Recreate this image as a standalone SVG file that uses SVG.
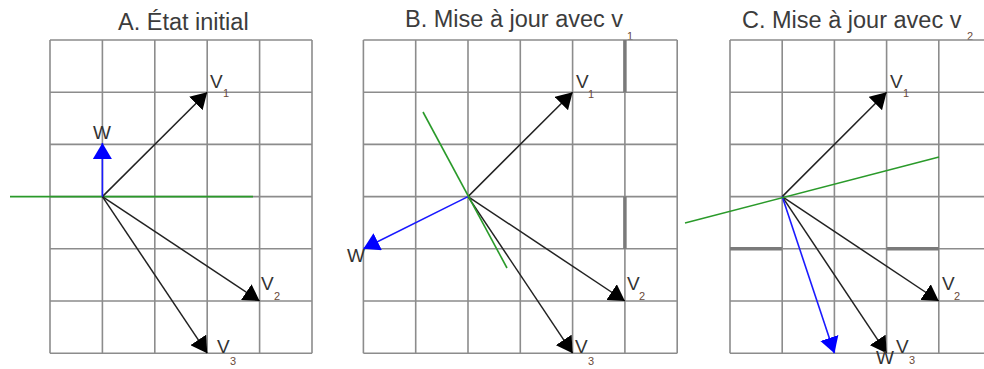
<svg xmlns="http://www.w3.org/2000/svg" width="984" height="369" viewBox="0 0 984 369">
<style>
.grid{stroke:#8c8c8c;stroke-width:1.6;fill:none}
.thick{stroke:#7a7a7a;stroke-width:3.5}
.title{font-family:"Liberation Sans",Arial,sans-serif;font-size:23.5px;fill:#3c3c3c}
.lbl{font-family:"Liberation Sans",Arial,sans-serif;font-size:19px;fill:#333}
.sub{font-family:"Liberation Sans",Arial,sans-serif;font-size:11px;fill:#6a4a3a}
.vec{stroke:#222;stroke-width:1.5;fill:none;marker-end:url(#ah)}
.w{stroke:#1a1aff;stroke-width:1.6;fill:none;marker-end:url(#ahb)}
.sep{stroke:#2a9a2a;stroke-width:1.6;fill:none}
</style>
<defs>
<marker id="ah" markerUnits="userSpaceOnUse" markerWidth="16" markerHeight="19" refX="16" refY="9.5" orient="auto"><path d="M0,0 L16,9.5 L0,19 z" fill="#000"/></marker>
<marker id="ahb" markerUnits="userSpaceOnUse" markerWidth="16" markerHeight="19" refX="16" refY="9.5" orient="auto"><path d="M0,0 L16,9.5 L0,19 z" fill="#0000ff"/></marker>
</defs>
<rect width="984" height="369" fill="#fff"/>

<!-- Panel A -->
<g id="panel-a">
<text class="title" x="118" y="30">A. État initial</text>
<g class="grid">
<path d="M50,40V353.2M102.4,40V353.2M154.8,40V353.2M207.2,40V353.2M259.6,40V353.2M312,40V353.2"/>
<path d="M50,40H312M50,92.2H312M50,144.4H312M50,196.6H312M50,248.8H312M50,301H312M50,353.2H312"/>
</g>
</g>

<!-- Panel B -->
<g id="panel-b">
<text class="title" x="405" y="27">B. Mise à jour avec v</text>
<text class="sub" x="627" y="40">1</text>
<g class="grid">
<path d="M363.4,40V353.2M415.7,40V353.2M468,40V353.2M520.3,40V353.2M572.6,40V353.2M624.9,40V353.2M677.2,40V353.2"/>
<path d="M363.4,40H677.2M363.4,92.2H677.2M363.4,144.4H677.2M363.4,196.6H677.2M363.4,248.8H677.2M363.4,301H677.2M363.4,353.2H677.2"/>
</g>
<path class="thick" d="M624.9,40V92.2M624.9,196.6V248.8"/>
</g>

<!-- Panel C -->
<g id="panel-c">
<text class="title" x="742" y="28">C. Mise à jour avec v</text>
<text class="sub" x="967" y="40">2</text>
<g class="grid">
<path d="M730,40V353.2M782.2,40V353.2M834.4,40V353.2M886.6,40V353.2M938.8,40V353.2"/>
<path d="M730,40H984M730,92.2H984M730,144.4H984M730,196.6H984M730,248.8H984M730,301H984M730,353.2H984"/>
</g>
<path class="thick" d="M730,248.8H782.2M886.6,248.8H938.8"/>
</g>

<g id="connectors">
<!-- A -->
<line class="sep" x1="10" y1="196.6" x2="253" y2="196.6"/>
<line class="vec" x1="102.4" y1="196.6" x2="207.2" y2="92.2"/>
<line class="vec" x1="102.4" y1="196.6" x2="259.6" y2="301"/>
<line class="vec" x1="102.4" y1="196.6" x2="207.2" y2="353.2"/>
<line class="w" x1="102.4" y1="196.6" x2="102.4" y2="143"/>
<!-- B -->
<line class="vec" x1="468" y1="196.6" x2="572.6" y2="92.2"/>
<line class="vec" x1="468" y1="196.6" x2="624.9" y2="301"/>
<line class="vec" x1="468" y1="196.6" x2="572.6" y2="353.2"/>
<line class="w" x1="468" y1="196.6" x2="363.4" y2="248.8"/>
<line class="sep" x1="423" y1="112" x2="507" y2="268"/>
<!-- C -->
<line class="vec" x1="782.2" y1="196.6" x2="886.6" y2="92.2"/>
<line class="vec" x1="782.2" y1="196.6" x2="938.8" y2="301"/>
<line class="vec" x1="782.2" y1="196.6" x2="886.6" y2="353.2"/>
<line class="w" x1="782.2" y1="196.6" x2="834.4" y2="353.2"/>
<line class="sep" x1="685" y1="223" x2="939" y2="157"/>
</g>

<g id="labels-a">
<text class="lbl" x="210" y="88">V</text><text class="sub" x="223" y="97">1</text>
<text class="lbl" x="261" y="290">V</text><text class="sub" x="274" y="300">2</text>
<text class="lbl" x="217" y="353">V</text><text class="sub" x="230" y="365">3</text>
<text class="lbl" x="93" y="139">W</text>
</g>
<g id="labels-b">
<text class="lbl" x="576" y="88">V</text><text class="sub" x="588" y="98">1</text>
<text class="lbl" x="627" y="290">V</text><text class="sub" x="639" y="300">2</text>
<text class="lbl" x="575" y="353">V</text><text class="sub" x="588" y="365">3</text>
<text class="lbl" x="347" y="262">W</text>
</g>
<g id="labels-c">
<text class="lbl" x="890" y="88">V</text><text class="sub" x="903" y="97">1</text>
<text class="lbl" x="942" y="290">V</text><text class="sub" x="954" y="300">2</text>
<text class="lbl" x="896" y="353">V</text><text class="sub" x="909" y="364">3</text>
<text class="lbl" x="876" y="364">W</text>
</g>
</svg>
